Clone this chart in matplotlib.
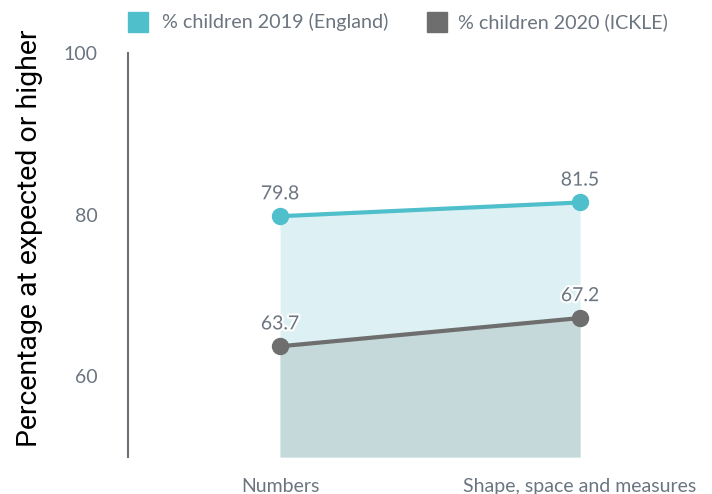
import matplotlib.pyplot as plt
import matplotlib.patheffects as pe
from matplotlib.patches import Rectangle

categories = ['Numbers', 'Shape, space and measures']
england_2019 = [79.8, 81.5]
ickle_2020 = [63.7, 67.2]
series_names = ['% children 2019 (England)', '% children 2020 (ICKLE)']

cyan = '#4fbfcc'
grey = '#6e6e6e'
text_grey = '#6b7580'

plt.rcParams['font.family'] = ['Lato', 'DejaVu Sans']

fig = plt.figure(figsize=(7.12, 4.94), dpi=100)
ax = fig.add_axes([128 / 712, 37 / 494, 1 - 128 / 712, 404 / 494])

x = list(range(len(categories)))

# filled areas down to the axis floor
ax.fill_between(x, 50, england_2019, color='#ddf1f4', lw=0, zorder=1)
ax.fill_between(x, 50, ickle_2020, color='#c5d8da', lw=0, zorder=2)

ax.plot(x, england_2019, color=cyan, lw=3, marker='o', ms=11.5, zorder=3)
ax.plot(x, ickle_2020, color=grey, lw=3, marker='o', ms=11.5, zorder=3)

halo = [pe.withStroke(linewidth=3, foreground='white')]
for xi, v in zip(x, england_2019):
    ax.annotate(f'{v}', (xi, v), xytext=(0, 10), textcoords='offset points',
                ha='center', va='bottom', fontsize=14, color=text_grey,
                path_effects=halo, zorder=4)
for xi, v in zip(x, ickle_2020):
    ax.annotate(f'{v}', (xi, v), xytext=(0, 10), textcoords='offset points',
                ha='center', va='bottom', fontsize=14, color=text_grey,
                path_effects=halo, zorder=4)

ax.set_xlim(-0.507, 1.44)
ax.set_ylim(50, 100)
ax.set_yticks([60, 80, 100])
ax.set_xticks(x)
ax.set_xticklabels(categories)

for side in ['top', 'right', 'bottom']:
    ax.spines[side].set_visible(False)
ax.spines['left'].set_color('#6b7178')
ax.spines['left'].set_linewidth(1.5)
ax.tick_params(axis='y', length=0, pad=22, labelsize=14, labelcolor=text_grey)
ax.tick_params(axis='x', length=0, pad=15, labelsize=14, labelcolor=text_grey)

fig.text(30 / 712, 1 - 238 / 494, 'Percentage at expected or higher',
         rotation=90, ha='center', va='center', fontsize=20.5, color='black',
         family=['Roboto', 'DejaVu Sans'])

# legend drawn by hand across the top
for sx, tx, col, name in [(128, 162, cyan, series_names[0]),
                          (427, 458, grey, series_names[1])]:
    fig.patches.append(Rectangle((sx / 712, 1 - 32 / 494), 20 / 712, 20 / 494,
                                 transform=fig.transFigure, color=col))
    fig.text(tx / 712, 1 - 22 / 494, name, ha='left', va='center',
             fontsize=14.2, color=text_grey)

fig.savefig('out.png', dpi=100)
